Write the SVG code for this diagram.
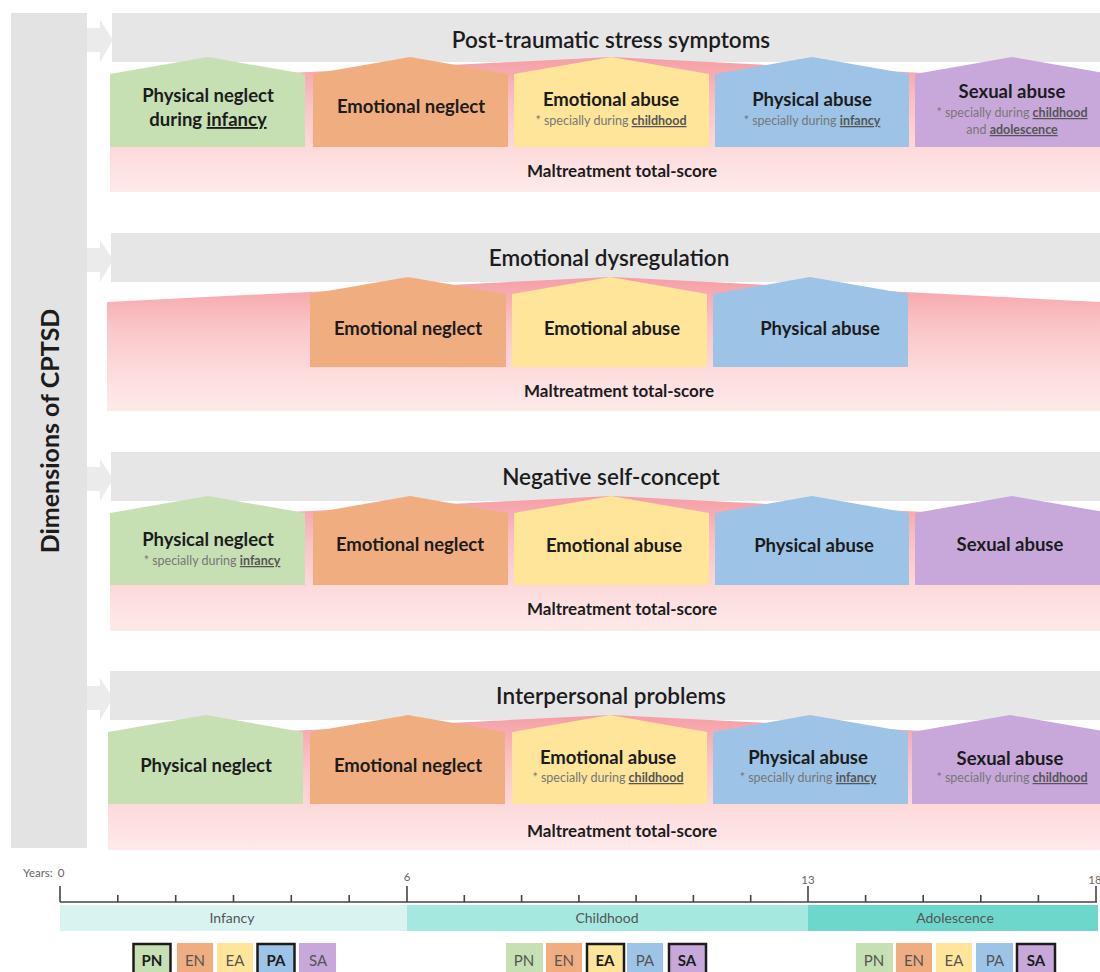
<svg xmlns="http://www.w3.org/2000/svg" width="1100" height="972" viewBox="0 0 1100 972">
<defs>
<linearGradient id="pk" x1="0" y1="0" x2="0" y2="1">
<stop offset="0" stop-color="#f59ea4"/>
<stop offset="0.35" stop-color="#fac3c6"/>
<stop offset="0.7" stop-color="#fddbdc"/>
<stop offset="1" stop-color="#feeaea"/>
</linearGradient>
<style>
text{font-family:Lato,"Open Sans","Liberation Sans",sans-serif}
.hdr{fill:#e6e6e6}
.arr{fill:#ebebeb}
.pink{fill:url(#pk)}
.pn{fill:#c6e0b4}.en{fill:#f0ae80}.ea{fill:#fee59a}.pa{fill:#9dc3e6}.sa{fill:#c8a8db}
.th{font-size:22.5px;font-weight:600;fill:#1c1c1c;text-anchor:middle}
.tn{font-size:18.5px;font-weight:bold;fill:#1c1c1c;text-anchor:middle}
.ts{font-size:12.5px;fill:#777;text-anchor:middle}
.u{font-weight:bold;text-decoration:underline;fill:#555}
.un{text-decoration:underline}
.tm{font-size:17px;font-weight:bold;fill:#1c1c1c;text-anchor:middle}
.ty{font-size:11.5px;fill:#666}
.tp{font-size:14px;fill:#555;text-anchor:middle}
.lg{font-size:15px;fill:#555;text-anchor:middle}
.lgb{font-size:15px;font-weight:bold;fill:#1c1c1c;text-anchor:middle}
.bd{stroke:#1c1c1c;stroke-width:2.5}
.tick{stroke:#444;stroke-width:1.6}
</style>
</defs>
<rect width="1100" height="972" fill="#ffffff"/>

<g id="dimensions">
<rect x="11" y="13" width="76" height="835" fill="#e3e3e3"/>
<text transform="translate(59,431) rotate(-90)" font-size="25" font-weight="bold" fill="#1c1c1c" text-anchor="middle">Dimensions of CPTSD</text>
</g>

<g id="connectors">
<polygon class="arr" points="87,28 100,28 100,20 113,40 100,62 100,52 87,52"/>
<polygon class="arr" points="87,248 100,248 100,240 113,260 100,282 100,272 87,272"/>
<polygon class="arr" points="87,467 100,467 100,459 113,479 100,501 100,491 87,491"/>
<polygon class="arr" points="87,686 100,686 100,678 113,698 100,720 100,710 87,710"/>
</g>

<!-- Section 1 -->
<g id="sec1">
<g id="ptss"><rect class="hdr" x="112" y="13" width="988" height="49"/><text class="th" x="611" y="48">Post-traumatic stress symptoms</text></g>
<g id="ptss-total"><path class="pink" d="M110 192V82L611 57L1100 82V192Z"/><text class="tm" x="622" y="177">Maltreatment total-score</text></g>
<g id="ptss-pn"><path class="pn" d="M110 147V74L208 57L305 74V147Z"/><text class="tn" x="208" y="102">Physical neglect</text><text class="tn" x="208" y="126">during <tspan class="un">infancy</tspan></text></g>
<g id="ptss-en"><path class="en" d="M313 147V74L410 57L508 74V147Z"/><text class="tn" x="411" y="113">Emotional neglect</text></g>
<g id="ptss-ea"><path class="ea" d="M514 147V74L611 57L709 74V147Z"/><text class="tn" x="611" y="106">Emotional abuse</text><text class="ts" x="611" y="125">* specially during <tspan class="u">childhood</tspan></text></g>
<g id="ptss-pa"><path class="pa" d="M715 147V74L812 57L909 74V147Z"/><text class="tn" x="812" y="106">Physical abuse</text><text class="ts" x="812" y="125">* specially during <tspan class="u">infancy</tspan></text></g>
<g id="ptss-sa"><path class="sa" d="M915 147V74L1012 57L1110 74V147Z"/><text class="tn" x="1012" y="98">Sexual abuse</text><text class="ts" x="1012" y="117">* specially during <tspan class="u">childhood</tspan></text><text class="ts" x="1012" y="134">and <tspan class="u">adolescence</tspan></text></g>
</g>

<!-- Section 2 -->
<g id="sec2">
<g id="ed"><rect class="hdr" x="111" y="233" width="989" height="49"/><text class="th" x="609" y="266">Emotional dysregulation</text></g>
<g id="ed-total"><path class="pink" d="M107 411V302L611 277L1100 302V411Z"/><text class="tm" x="619" y="397">Maltreatment total-score</text></g>
<g id="ed-en"><path class="en" d="M310 367V294L408 277L506 294V367Z"/><text class="tn" x="408" y="335">Emotional neglect</text></g>
<g id="ed-ea"><path class="ea" d="M512 367V294L610 277L707 294V367Z"/><text class="tn" x="612" y="335">Emotional abuse</text></g>
<g id="ed-pa"><path class="pa" d="M713 367V294L810 277L908 294V367Z"/><text class="tn" x="820" y="335">Physical abuse</text></g>
</g>

<!-- Section 3 -->
<g id="sec3">
<g id="nsc"><rect class="hdr" x="111" y="452" width="989" height="49"/><text class="th" x="611" y="485">Negative self-concept</text></g>
<g id="nsc-total"><path class="pink" d="M110 631V521L611 496L1100 521V631Z"/><text class="tm" x="622" y="615">Maltreatment total-score</text></g>
<g id="nsc-pn"><path class="pn" d="M110 585V513L208 496L305 513V585Z"/><text class="tn" x="208" y="546">Physical neglect</text><text class="ts" x="212" y="565">* specially during <tspan class="u">infancy</tspan></text></g>
<g id="nsc-en"><path class="en" d="M313 585V513L410 496L508 513V585Z"/><text class="tn" x="410" y="551">Emotional neglect</text></g>
<g id="nsc-ea"><path class="ea" d="M514 585V513L611 496L709 513V585Z"/><text class="tn" x="614" y="552">Emotional abuse</text></g>
<g id="nsc-pa"><path class="pa" d="M715 585V513L812 496L909 513V585Z"/><text class="tn" x="814" y="552">Physical abuse</text></g>
<g id="nsc-sa"><path class="sa" d="M915 585V513L1012 496L1110 513V585Z"/><text class="tn" x="1010" y="551">Sexual abuse</text></g>
</g>

<!-- Section 4 -->
<g id="sec4">
<g id="ip"><rect class="hdr" x="110" y="671" width="990" height="49"/><text class="th" x="611" y="704">Interpersonal problems</text></g>
<g id="ip-total"><path class="pink" d="M108 850V740L611 715L1100 740V850Z"/><text class="tm" x="622" y="837">Maltreatment total-score</text></g>
<g id="ip-pn"><path class="pn" d="M108 804V732L206 715L303 732V804Z"/><text class="tn" x="206" y="772">Physical neglect</text></g>
<g id="ip-en"><path class="en" d="M310 804V732L408 715L505 732V804Z"/><text class="tn" x="408" y="772">Emotional neglect</text></g>
<g id="ip-ea"><path class="ea" d="M512 804V732L610 715L707 732V804Z"/><text class="tn" x="608" y="764">Emotional abuse</text><text class="ts" x="608" y="782">* specially during <tspan class="u">childhood</tspan></text></g>
<g id="ip-pa"><path class="pa" d="M713 804V732L810 715L908 732V804Z"/><text class="tn" x="808" y="764">Physical abuse</text><text class="ts" x="808" y="782">* specially during <tspan class="u">infancy</tspan></text></g>
<g id="ip-sa"><path class="sa" d="M912 804V732L1010 715L1108 732V804Z"/><text class="tn" x="1010" y="765">Sexual abuse</text><text class="ts" x="1012" y="782">* specially during <tspan class="u">childhood</tspan></text></g>
</g>

<!-- Timeline -->
<g id="timeline">
<text class="ty" x="23" y="877">Years:</text>
<text class="ty" x="61" y="877" text-anchor="middle">0</text>
<text class="ty" x="407" y="881" text-anchor="middle">6</text>
<text class="ty" x="808" y="884" text-anchor="middle">13</text>
<text class="ty" x="1095" y="884" text-anchor="middle">18</text>
<line class="tick" x1="60" y1="902" x2="1097" y2="902"/>
<path class="tick" fill="none" d="M60 886V902M407 886V902M808 886V902M1096 886V902M117.8 895V902M175.7 895V902M233.5 895V902M291.3 895V902M349.2 895V902M464.3 895V902M521.6 895V902M578.9 895V902M636.1 895V902M693.4 895V902M750.7 895V902M865.6 895V902M923.2 895V902M980.8 895V902M1038.4 895V902"/>
<g id="infancy"><rect x="60" y="905" width="347" height="26" fill="#d9f4f0"/><text class="tp" x="232" y="923">Infancy</text></g>
<g id="childhood"><rect x="407" y="905" width="401" height="26" fill="#a5e8e0"/><text class="tp" x="607" y="923">Childhood</text></g>
<g id="adolescence"><rect x="808" y="905" width="290" height="26" fill="#6dd7cc"/><text class="tp" x="955" y="923">Adolescence</text></g>
</g>

<!-- Legend -->
<g id="legend-infancy">
<rect class="pn bd" x="133.5" y="944" width="37" height="34"/><text class="lgb" x="152" y="966">PN</text>
<rect class="en" x="177" y="943" width="36" height="35"/><text class="lg" x="195" y="966">EN</text>
<rect class="ea" x="217" y="943" width="36" height="35"/><text class="lg" x="235" y="966">EA</text>
<rect class="pa bd" x="257.5" y="944" width="37" height="34"/><text class="lgb" x="276" y="966">PA</text>
<rect class="sa" x="299" y="943" width="37" height="35"/><text class="lg" x="318" y="966">SA</text>
</g>
<g id="legend-childhood">
<rect class="pn" x="506" y="943" width="37" height="35"/><text class="lg" x="524" y="966">PN</text>
<rect class="en" x="546" y="943" width="36" height="35"/><text class="lg" x="564" y="966">EN</text>
<rect class="ea bd" x="587" y="944" width="37" height="34"/><text class="lgb" x="605" y="966">EA</text>
<rect class="pa" x="627" y="943" width="36" height="35"/><text class="lg" x="645" y="966">PA</text>
<rect class="sa bd" x="669" y="944" width="37" height="34"/><text class="lgb" x="687" y="966">SA</text>
</g>
<g id="legend-adolescence">
<rect class="pn" x="856" y="943" width="37" height="35"/><text class="lg" x="874" y="966">PN</text>
<rect class="en" x="896" y="943" width="36" height="35"/><text class="lg" x="914" y="966">EN</text>
<rect class="ea" x="936" y="943" width="36" height="35"/><text class="lg" x="954" y="966">EA</text>
<rect class="pa" x="976" y="943" width="37" height="35"/><text class="lg" x="995" y="966">PA</text>
<rect class="sa bd" x="1017" y="944" width="38" height="34"/><text class="lgb" x="1036" y="966">SA</text>
</g>
</svg>
